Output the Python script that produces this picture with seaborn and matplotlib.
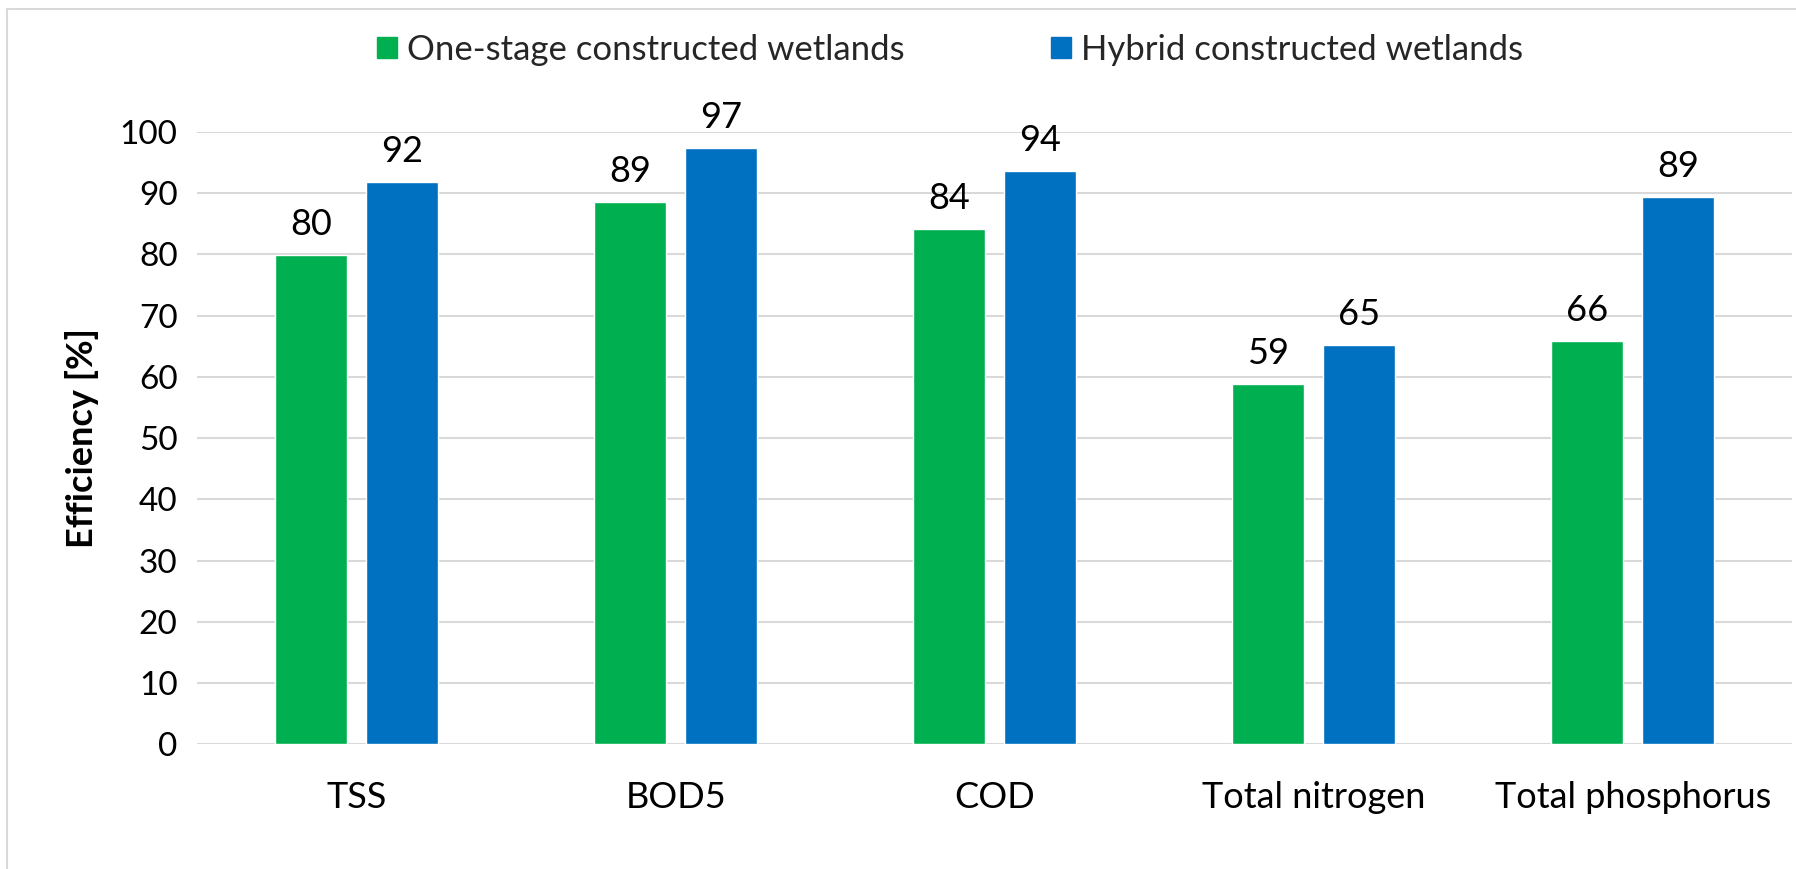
import pandas as pd
import matplotlib.pyplot as plt
import seaborn as sns
from matplotlib.lines import Line2D

# values
categories = ['TSS', 'BOD5', 'COD', 'Total nitrogen', 'Total phosphorus']
one_stage = [79.9, 88.6, 84.1, 58.9, 65.8]
hybrid = [91.8, 97.3, 93.6, 65.2, 89.3]
series_names = ['One-stage constructed wetlands', 'Hybrid constructed wetlands']
colors = ['#00B050', '#0070C0']

df = pd.DataFrame({
    'Parameter': categories * 2,
    'Efficiency': one_stage + hybrid,
    'System': [series_names[0]] * len(categories) + [series_names[1]] * len(categories),
})

sns.set_theme(style="white")
plt.rcParams['font.family'] = ['Lato', 'DejaVu Sans']
FS = 26

fig = plt.figure(figsize=(17.96, 8.69), dpi=100)
ax = fig.add_axes([0.1097, 0.1433, 0.8883, 0.7051])

sns.barplot(data=df, x='Parameter', y='Efficiency', hue='System',
            order=categories, hue_order=series_names,
            palette=dict(zip(series_names, colors)),
            width=0.57, gap=0.21, saturation=1, errorbar=None, ax=ax,
            legend=False)

# value labels on bars
for c in ax.containers:
    ax.bar_label(c, fmt='%.0f', padding=10, fontsize=FS, color='black')

ax.set_ylim(0, 100)
ax.set_xlim(-0.5, 4.5)
ax.set_yticks(range(0, 101, 10))
ax.yaxis.grid(True, color='#D9D9D9', linewidth=1.5)
ax.set_axisbelow(True)
for s in ax.spines.values():
    s.set_visible(False)
ax.tick_params(axis='y', length=0, pad=14, labelsize=24, labelcolor='black')
ax.tick_params(axis='x', length=0, pad=26, labelsize=FS, labelcolor='black')
ax.set_xlabel('')
ax.set_ylabel('Efficiency [%]', fontsize=FS, fontweight='bold', color='black', labelpad=15)

# legend at the top
handles = [plt.Rectangle((0, 0), 1, 1, color=col) for col in colors]
fig.legend(handles, series_names, loc='center', bbox_to_anchor=(0.529, 0.9425),
           ncol=2, frameon=False, fontsize=25, handlelength=0.57, handleheight=0.57,
           handletextpad=0.3, columnspacing=4.2)

# light chart-area border (clipped at right and bottom as in the reference)
border = '#D9D9D9'
fig.add_artist(Line2D([7 / 1796, 7 / 1796], [0, 1 - 9 / 869], color=border, linewidth=1.5))
fig.add_artist(Line2D([7 / 1796, 1], [1 - 9 / 869, 1 - 9 / 869], color=border, linewidth=1.5))

plt.savefig('out.png', dpi=100)
